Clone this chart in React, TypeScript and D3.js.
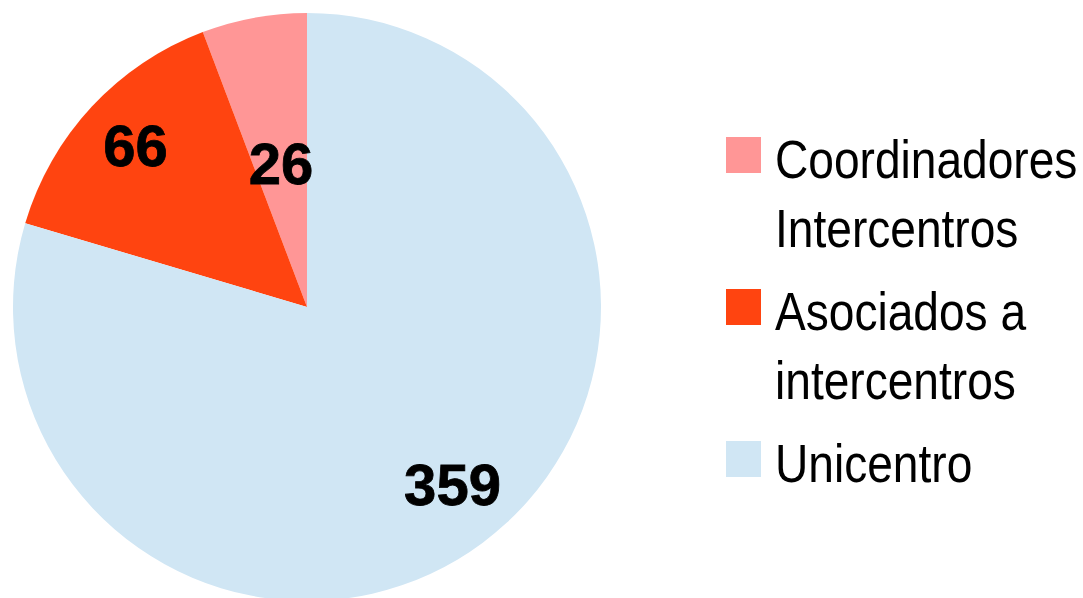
import React, {useEffect, useRef} from 'react';
import * as d3 from 'd3';

const categories = ['Coordinadores Intercentros', 'Asociados a intercentros', 'Unicentro'];
const values = [26, 66, 359];
const legendLines = [['Coordinadores', 'Intercentros'], ['Asociados a', 'intercentros'], ['Unicentro']];
const colors = ['#FF9696', '#FF4410', '#D0E6F4'];

// layout only: where each value label sits
const labelRadius = [145, 234, 230];
const labelShift = [
  [0, -1],
  [0, -3],
  [8, -7],
];

export default function App() {
  const svgRef = useRef<SVGSVGElement>(null);

  useEffect(() => {
    document.body.style.margin = '0';
    if (!svgRef.current) return;
    const svg = d3.select(svgRef.current);
    svg.selectAll('*').remove();

    const cx = 307;
    const cy = 307;
    const radius = 294;

    const pie = d3
      .pie<number>()
      .sort(null)
      .startAngle(0)
      .endAngle(-2 * Math.PI)
      .value((d) => d);
    const arcs = pie(values);
    const arc = d3.arc<d3.PieArcDatum<number>>().innerRadius(0).outerRadius(radius);

    const g = svg.append('g').attr('transform', `translate(${cx},${cy})`);
    g.selectAll('path')
      .data(arcs)
      .enter()
      .append('path')
      .attr('d', arc)
      .attr('fill', (_, i) => colors[i]);

    // value labels
    g.selectAll('text')
      .data(arcs)
      .enter()
      .append('text')
      .attr('transform', (d, i) => {
        const a = (d.startAngle + d.endAngle) / 2;
        const r = labelRadius[i];
        const [sx, sy] = labelShift[i];
        return `translate(${r * Math.sin(a) + sx},${-r * Math.cos(a) + sy})`;
      })
      .attr('text-anchor', 'middle')
      .attr('dy', '0.36em')
      .attr('font-family', '"Liberation Sans", Arial, sans-serif')
      .attr('font-weight', 'bold')
      .attr('font-size', 58)
      .attr('fill', '#000')
      .attr('stroke', '#000')
      .attr('stroke-width', 0.8)
      .text((d) => d.data);

    // legend
    const legend = svg.append('g').attr('transform', 'translate(726,137)');
    const itemY = [0, 152, 304];
    categories.forEach((c, i) => {
      const item = legend.append('g').attr('transform', `translate(0,${itemY[i]})`);
      item.append('rect').attr('width', 35).attr('height', 36).attr('fill', colors[i]);
      legendLines[i].forEach((line, j) => {
        item
          .append('text')
          .attr('transform', `translate(49,${41 + j * 69}) scale(0.87,1)`)
          .attr('font-family', '"Liberation Sans", Arial, sans-serif')
          .attr('font-size', 53)
          .attr('fill', '#000')
          .text(line);
      });
    });
  }, []);

  return <svg ref={svgRef} width={1083} height={598} style={{display: 'block'}} />;
}
